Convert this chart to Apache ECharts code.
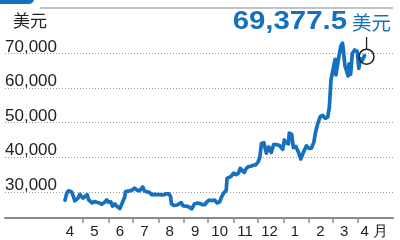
<!DOCTYPE html>
<html>
<head>
<meta charset="utf-8">
<script src="https://cdn.jsdelivr.net/npm/echarts@6/dist/echarts.min.js"></script>
<style>
html,body{margin:0;padding:0;background:#fff;}
#c{width:400px;height:240px;}
</style>
</head>
<body>
<div id="c"></div>
<script>
// ---- data ----
const dates = [
'2023-04-09','2023-04-11','2023-04-13','2023-04-15','2023-04-17','2023-04-19','2023-04-21','2023-04-23','2023-04-25','2023-04-27','2023-04-29',
'2023-05-01','2023-05-03','2023-05-06','2023-05-08','2023-05-10','2023-05-12','2023-05-15','2023-05-18','2023-05-21','2023-05-24','2023-05-27','2023-05-30',
'2023-06-01','2023-06-04','2023-06-06','2023-06-09','2023-06-11','2023-06-13','2023-06-15','2023-06-17','2023-06-19','2023-06-21','2023-06-22','2023-06-24','2023-06-27','2023-06-30',
'2023-07-03','2023-07-06','2023-07-09','2023-07-13','2023-07-15','2023-07-18','2023-07-21','2023-07-24','2023-07-27','2023-07-31',
'2023-08-03','2023-08-07','2023-08-10','2023-08-14','2023-08-16','2023-08-17','2023-08-20','2023-08-24','2023-08-29','2023-08-31',
'2023-09-03','2023-09-06','2023-09-11','2023-09-14','2023-09-18','2023-09-21','2023-09-24','2023-09-27','2023-09-29',
'2023-10-02','2023-10-05','2023-10-09','2023-10-12','2023-10-15','2023-10-17','2023-10-20','2023-10-23','2023-10-24','2023-10-26','2023-10-29',
'2023-11-01','2023-11-04','2023-11-07','2023-11-09','2023-11-11','2023-11-14','2023-11-16','2023-11-19','2023-11-22','2023-11-25','2023-11-28',
'2023-12-01','2023-12-03','2023-12-05','2023-12-08','2023-12-11','2023-12-14','2023-12-17','2023-12-20','2023-12-23','2023-12-27','2023-12-31',
'2024-01-02','2024-01-04','2024-01-07','2024-01-08','2024-01-11','2024-01-13','2024-01-16','2024-01-19','2024-01-22','2024-01-23','2024-01-26','2024-01-29',
'2024-02-01','2024-02-04','2024-02-07','2024-02-09','2024-02-12','2024-02-15','2024-02-18','2024-02-21','2024-02-24','2024-02-26','2024-02-28',
'2024-03-01','2024-03-04','2024-03-05','2024-03-08','2024-03-11','2024-03-13','2024-03-14','2024-03-16','2024-03-18','2024-03-20','2024-03-21','2024-03-23','2024-03-25','2024-03-27','2024-03-28','2024-03-31',
'2024-04-02','2024-04-04','2024-04-06','2024-04-09'
];
const prices = [
27600,29500,30300,30300,30000,28900,27400,27600,28200,29300,29000,
28200,28700,29200,27700,27600,26800,27200,27000,26800,26400,26900,27700,
27000,27100,25900,26500,25900,25900,25200,26300,26300,28500,30100,30600,30300,30500,
31100,30500,30300,31400,30300,30000,29900,29200,29300,29200,
29200,29100,29400,29400,28700,26600,26100,26200,26900,26000,
25900,25800,25100,26500,26800,26600,26300,26300,27000,
27600,27500,27600,26800,27100,28400,29700,30500,33900,34200,34500,
35400,35000,35400,36800,37300,35600,36600,37300,37400,37700,37800,
38700,39900,44000,44200,41200,43000,41400,43700,43700,43400,42300,
45000,44200,43900,47000,46600,42800,43100,41600,39500,39800,41800,43300,
42600,42600,44300,47100,49900,51800,52100,51300,51600,54500,62400,
62500,68300,63800,68300,72100,73000,71400,66500,66700,63500,67000,64000,70000,69500,71000,70600,
65700,68500,67900,69377.5
];
const yTicks = [30000, 40000, 50000, 60000, 70000];
const monthStarts = ['2023-05-01','2023-06-01','2023-07-01','2023-08-01','2023-09-01','2023-10-01','2023-11-01','2023-12-01','2024-01-01','2024-02-01','2024-03-01','2024-04-01'];
const monthLabelDates = ['2023-04-15','2023-05-15','2023-06-15','2023-07-15','2023-08-15','2023-09-15','2023-10-15','2023-11-15','2023-12-15','2024-01-15','2024-02-15','2024-03-15','2024-04-21'];
const monthLabels = ['4','5','6','7','8','9','10','11','12','1','2','3','4 月'];
const unitLabel = '美元';
const lastValueText = '69,377.5';

function ts(s){ const p = s.split('-').map(Number); return Date.UTC(p[0], p[1]-1, p[2]); }
const DAY = 86400000;
// layout: grid from x=5 to x=393; May 1 at x=83, Apr 1 2024 at x=358
const pxPerDay = 275 / ((ts('2024-04-01') - ts('2023-05-01')) / DAY);
const xMin = ts('2023-05-01') - (78 / pxPerDay) * DAY;
const xMax = xMin + (388 / pxPerDay) * DAY;

const blue = '#1570c0';
const font = '"Liberation Sans", Arial, Helvetica, sans-serif';
const cjk = '"Noto Sans CJK TC", "Noto Sans CJK SC", sans-serif';

const chart = echarts.init(document.getElementById('c'), null, {renderer: 'canvas'});
const labelMap = {};
monthLabelDates.forEach((d, i) => { labelMap[ts(d)] = monthLabels[i]; });

chart.setOption({
  animation: false,
  grid: {left: 5, right: 7, top: 36.2, bottom: 22},
  xAxis: {
    type: 'value', min: xMin, max: xMax,
    axisLine: {show: true, lineStyle: {color: '#8a8a8a', width: 2}},
    axisTick: {show: true, length: 5, lineStyle: {color: '#8a8a8a', width: 1.5}, customValues: monthStarts.map(ts)},
    axisLabel: {
      customValues: monthLabelDates.map(ts),
      formatter: v => labelMap[v] || '',
      color: '#222', fontSize: 15, fontFamily: font, margin: 6
    },
    splitLine: {show: false}
  },
  yAxis: {
    type: 'value', min: 22450, max: 75000,
    axisLine: {show: false},
    axisTick: {show: false, customValues: yTicks},
    axisLabel: {
      customValues: yTicks, inside: true, margin: 0,
      align: 'left', verticalAlign: 'bottom', lineHeight: 13,
      formatter: v => v.toLocaleString('en-US'),
      color: '#222', fontSize: 17, fontFamily: font
    },
    splitLine: {show: true, lineStyle: {color: '#9a9a9a', type: [1, 2], width: 1}}
  },
  series: [{
    type: 'line',
    data: dates.map((d, i) => [ts(d), prices[i]]),
    showSymbol: false,
    lineStyle: {color: blue, width: 3.7, join: 'round', cap: 'round'},
    z: 5
  }]
});

const last = chart.convertToPixel({seriesIndex: 0}, [ts(dates[dates.length-1]), prices[prices.length-1]]);
const r = 7.5;
chart.setOption({
  graphic: [
    {type: 'rect', shape: {x: -6, y: -6, width: 40, height: 10, r: 5}, style: {fill: blue}},
    {type: 'line', shape: {x1: 40, y1: 8, x2: 393, y2: 8}, style: {stroke: '#b0b0b0', lineWidth: 1.5}},
    {type: 'text', x: 13, y: 12, style: {text: unitLabel, font: '17px ' + cjk, fill: '#222'}},
    {type: 'text', x: 347, y: 35, scaleX: 1.13, originX: 0, originY: 0,
      style: {text: lastValueText, font: 'bold 26px ' + font, fill: blue, textAlign: 'right', textVerticalAlign: 'bottom'}},
    {type: 'text', x: 352, y: 13, style: {text: unitLabel, font: '19.5px ' + cjk, fill: blue}},
    {type: 'line', shape: {x1: last[0] + 2, y1: 37, x2: last[0] + 2, y2: last[1] + 1 - r}, style: {stroke: '#222', lineWidth: 1.3}, z: 10},
    {type: 'circle', shape: {cx: last[0] + 2, cy: last[1] + 1, r: r}, style: {fill: null, stroke: '#222', lineWidth: 1.5}, z: 10}
  ]
});
</script>
</body>
</html>
